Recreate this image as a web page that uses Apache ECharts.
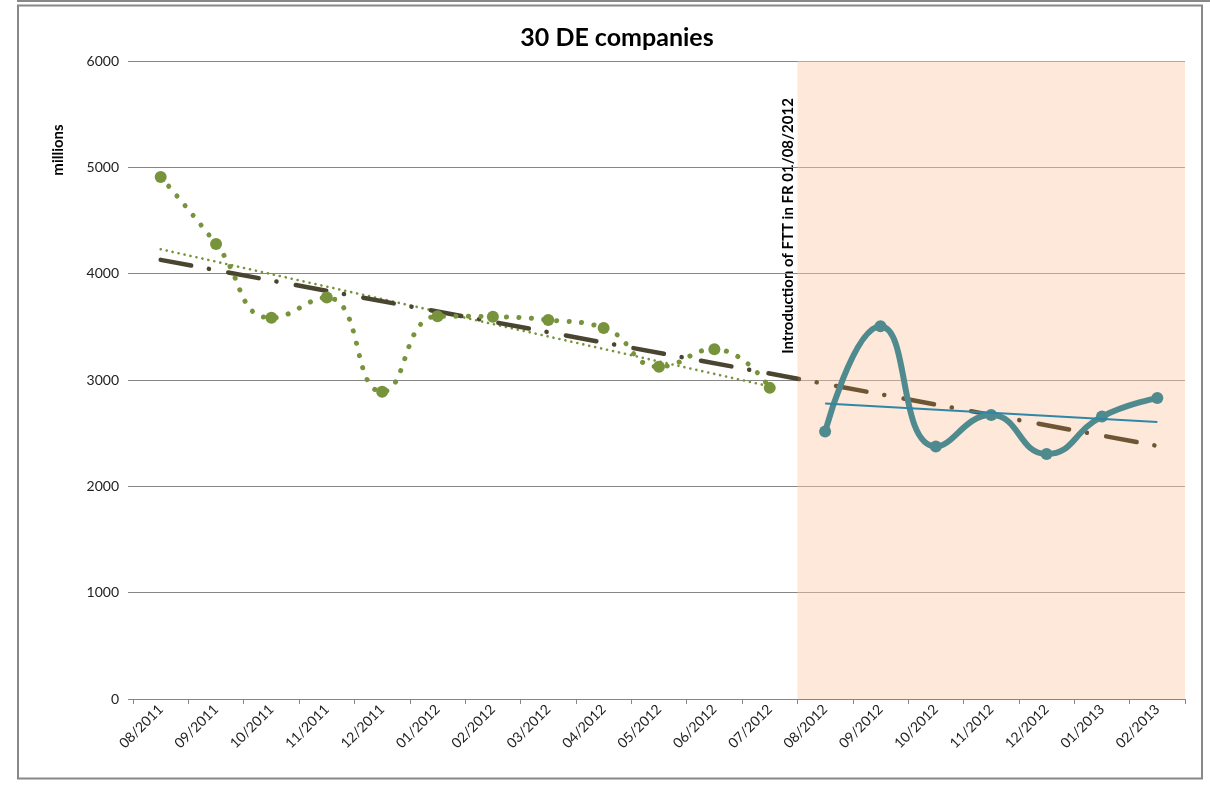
<!DOCTYPE html>
<html><head><meta charset="utf-8">
<script src="https://cdn.jsdelivr.net/npm/echarts@6/dist/echarts.min.js"></script>
<style>html,body{margin:0;padding:0;background:#fff}#c{width:1210px;height:788px}</style>
</head><body><div id="c"></div>
<script>
// ---- data ----
const categories = ['08/2011','09/2011','10/2011','11/2011','12/2011','01/2012','02/2012','03/2012','04/2012','05/2012','06/2012','07/2012','08/2012','09/2012','10/2012','11/2012','12/2012','01/2013','02/2013'];
const yTicks = [0, 1000, 2000, 3000, 4000, 5000, 6000];
const dePre = [4910, 4280, 3585, 3775, 2890, 3600, 3595, 3565, 3490, 3125, 3290, 2926];   // 08/2011 - 07/2012
const dePost = [2515, 3505, 2375, 2670, 2304, 2656, 2830];                                 // 08/2012 - 02/2013
const trendPreEnds = [4230, 2940];   // linear trend of pre-period, first & last value
const trendPostEnds = [2778, 2605];  // linear trend of post-period, first & last value
const trendAllEnds = [4130, 2380];   // long dash-dot trend, first & last value
const shadeFrom = '08/2012';
const annotation = 'Introduction of FTT in FR 01/08/2012';

// ---- build series arrays ----
const n = categories.length;
const shadeIdx = categories.indexOf(shadeFrom);
const preData = categories.map((c, i) => i < dePre.length ? dePre[i] : null);
const postData = categories.map((c, i) => i >= shadeIdx ? dePost[i - shadeIdx] : null);
function ends(first, firstIdx, last, lastIdx) {
  return categories.map((c, i) => i === firstIdx ? first : (i === lastIdx ? last : null));
}
const trendPre = ends(trendPreEnds[0], 0, trendPreEnds[1], dePre.length - 1);
const trendPost = ends(trendPostEnds[0], shadeIdx, trendPostEnds[1], n - 1);
const trendAll = ends(trendAllEnds[0], 0, trendAllEnds[1], n - 1);
const split = (shadeIdx - 0.5) / (n - 1);
const trendAllColor = new echarts.graphic.LinearGradient(0, 0, 1, 0, [
  { offset: 0, color: '#4A4530' }, { offset: split, color: '#4A4530' },
  { offset: split, color: '#6E5533' }, { offset: 1, color: '#6E5533' }
]);

const FONT = 'Lato';
const chart = echarts.init(document.getElementById('c'));
chart.setOption({
  animation: false,
  backgroundColor: '#fff',
  grid: { left: 133, right: 25, top: 61, bottom: 89, containLabel: false },
  xAxis: [
    {
      type: 'category', data: categories, boundaryGap: true,
      axisLine: { lineStyle: { color: '#868686', width: 1 } },
      axisTick: { show: true, length: 5, lineStyle: { color: '#868686' } },
      axisLabel: { rotate: 45, fontSize: 14, color: '#222', fontFamily: FONT, margin: 8, interval: 0 },
      splitLine: { show: false }
    },
    { type: 'value', min: 0, max: n, show: false }
  ],
  yAxis: {
    type: 'value', min: yTicks[0], max: yTicks[yTicks.length - 1], interval: yTicks[1] - yTicks[0],
    axisLine: { show: false },
    axisTick: { show: true, length: 5, lineStyle: { color: '#868686' } },
    splitLine: { lineStyle: { color: '#868686', width: 1 } },
    axisLabel: { fontSize: 14, color: '#222', fontFamily: FONT, margin: 14, formatter: v => String(v) }
  },
  series: [
    {
      type: 'line', xAxisIndex: 1, data: [], z: 1, silent: true,
      markArea: {
        silent: true,
        itemStyle: { color: 'rgba(250,205,170,0.45)' },
        data: [[ { xAxis: shadeIdx, yAxis: yTicks[0] }, { xAxis: n, yAxis: yTicks[yTicks.length - 1] } ]]
      }
    },
    {
      name: 'pre', type: 'line', data: preData, smooth: 0.5, z: 4,
      symbol: 'circle', symbolSize: 12, showSymbol: true,
      itemStyle: { color: '#77933C' },
      lineStyle: { color: '#77933C', width: 5, type: [0.1, 12.5], cap: 'round' }
    },
    {
      name: 'trendPre', type: 'line', data: trendPre, connectNulls: true, symbol: 'none', z: 3,
      lineStyle: { color: '#77933C', width: 2.6, type: [0.1, 6], cap: 'round' }
    },
    {
      name: 'trendAll', type: 'line', data: trendAll, connectNulls: true, symbol: 'none', z: 3,
      lineStyle: { color: trendAllColor, width: 4.5, type: [31, 18, 0.1, 19.6], cap: 'round' }
    },
    {
      name: 'post', type: 'line', data: postData, smooth: 0.5, z: 4,
      symbol: 'circle', symbolSize: 12,
      itemStyle: { color: '#4F8A8F' },
      lineStyle: { color: '#4F8A8F', width: 6 }
    },
    {
      name: 'trendPost', type: 'line', data: trendPost, connectNulls: true, symbol: 'none', z: 5,
      lineStyle: { color: '#2F86A6', width: 2 }
    }
  ],
  graphic: [
    { type: 'line', shape: { x1: 17, y1: 1, x2: 1210, y2: 1 }, style: { stroke: '#888', lineWidth: 2 }, silent: true },
    { type: 'rect', shape: { x: 18, y: 5.5, width: 1184, height: 773 }, style: { fill: 'none', stroke: '#888', lineWidth: 2 }, silent: true },
    { type: 'text', x: 617, y: 38, silent: true,
      style: { text: '30 DE companies', font: 'bold 25px ' + FONT, fill: '#000', textAlign: 'center', textVerticalAlign: 'middle', align: 'center', verticalAlign: 'middle' } },
    { type: 'text', x: 58, y: 150, rotation: Math.PI / 2, silent: true,
      style: { text: 'millions', font: 'bold 15px ' + FONT, fill: '#000', textAlign: 'center', textVerticalAlign: 'middle', align: 'center', verticalAlign: 'middle' } },
    { type: 'text', x: 788, y: 226, rotation: Math.PI / 2, silent: true,
      style: { text: annotation, font: 'bold 15px ' + FONT, fill: '#000', textAlign: 'center', textVerticalAlign: 'middle', align: 'center', verticalAlign: 'middle' } }
  ]
});
</script></body></html>
